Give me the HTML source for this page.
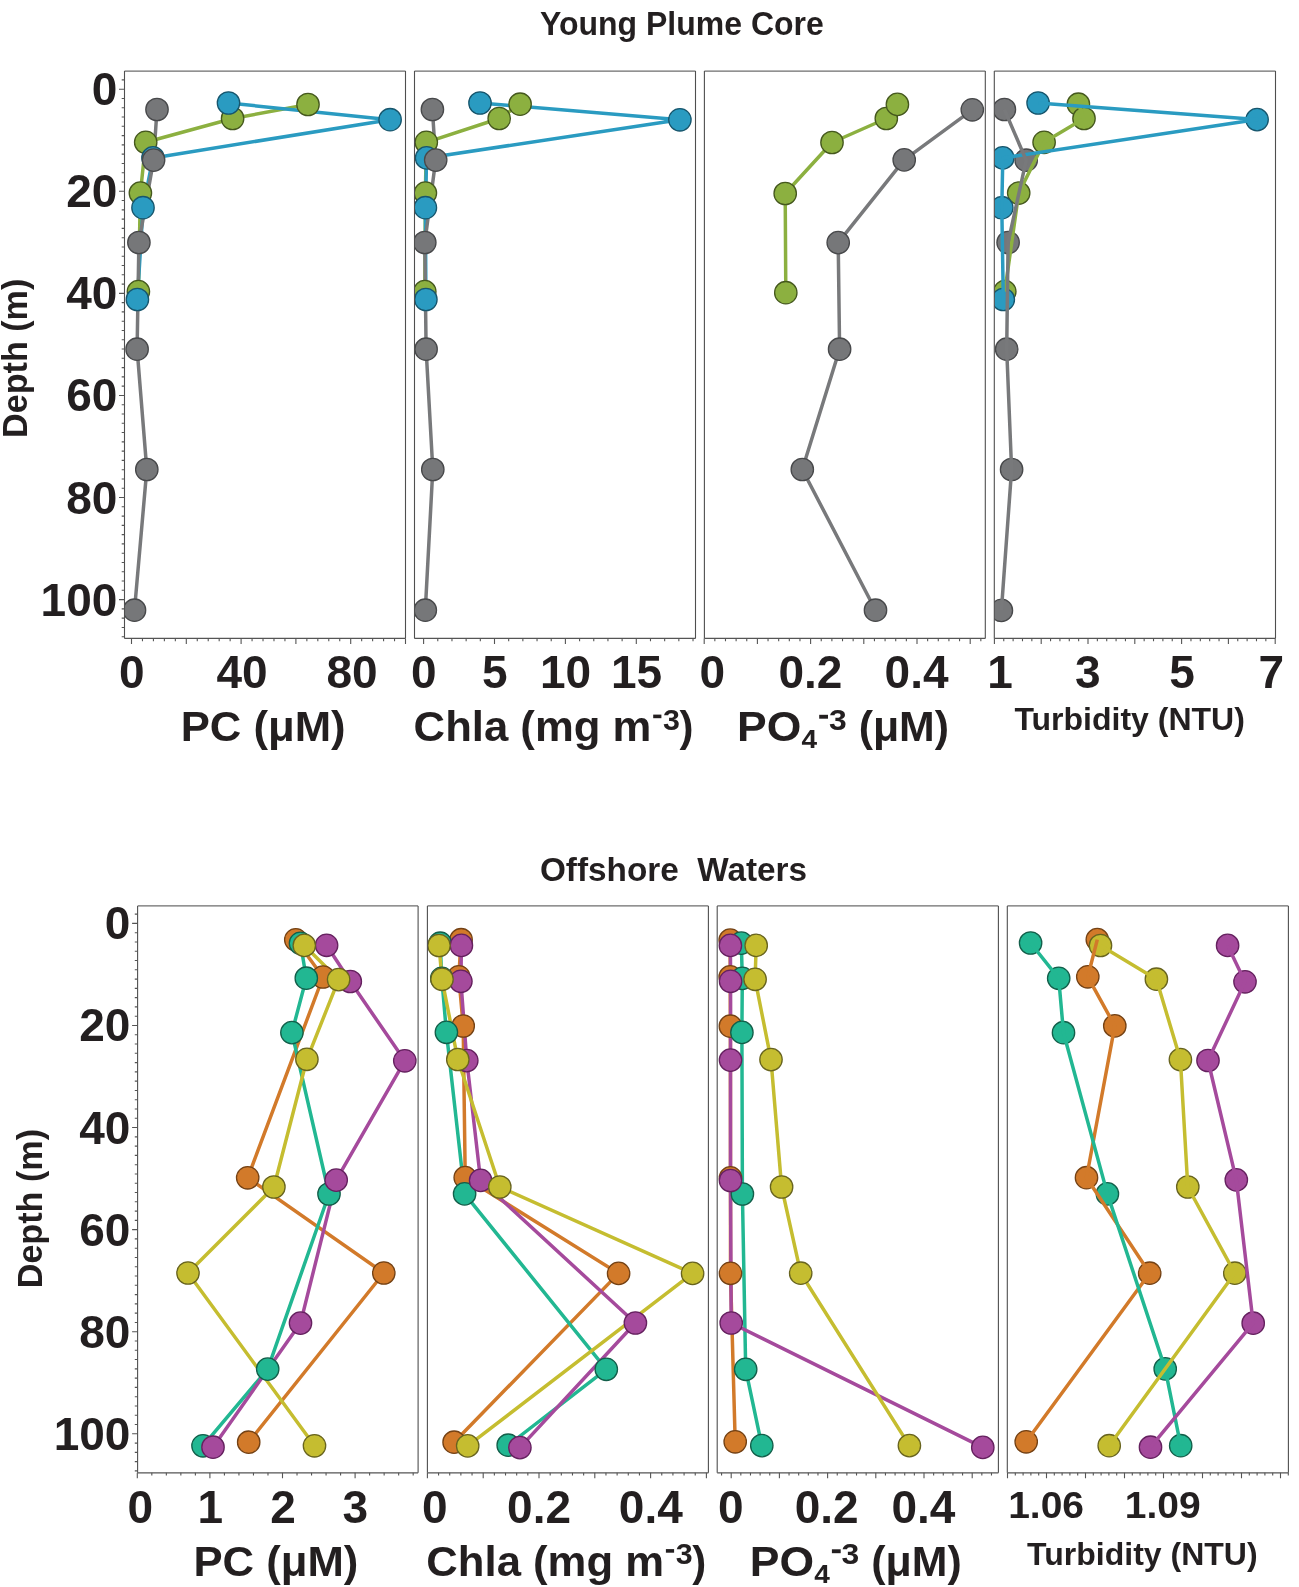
<!DOCTYPE html><html><head><meta charset="utf-8"><style>html,body{margin:0;padding:0;background:#fff;width:1299px;height:1587px;overflow:hidden}svg{display:block;will-change:transform}text{font-family:'Liberation Sans', sans-serif;font-weight:bold;fill:#231f20}</style></head><body>
<svg width="1299" height="1587" viewBox="0 0 1299 1587">
<rect width="1299" height="1587" fill="#fff"/>
<defs>
<clipPath id="ct0"><rect x="124.5" y="71.1" width="281" height="567.3"/></clipPath>
<clipPath id="ct1"><rect x="414.5" y="71.1" width="281" height="567.3"/></clipPath>
<clipPath id="ct2"><rect x="704.4" y="71.1" width="280.9" height="567.3"/></clipPath>
<clipPath id="ct3"><rect x="994.3" y="71.1" width="281.2" height="567.3"/></clipPath>
<clipPath id="cb0"><rect x="137.6" y="905.9" width="280.5" height="566.9"/></clipPath>
<clipPath id="cb1"><rect x="427.4" y="905.9" width="281" height="566.9"/></clipPath>
<clipPath id="cb2"><rect x="717.2" y="905.9" width="281.2" height="566.9"/></clipPath>
<clipPath id="cb3"><rect x="1007.3" y="905.9" width="281.1" height="566.9"/></clipPath>
</defs>
<g clip-path="url(#ct0)">
<polyline points="308,104.5 232.6,118.5 145.7,142.3 140.4,193.1 138.4,291.6" fill="none" stroke="#8cb040" stroke-width="3.5" stroke-linejoin="round" stroke-linecap="butt"/>
<polyline points="228.5,103 390.1,119.7 153,157.9 143,207.7 137.4,299.5" fill="none" stroke="#2a9bc1" stroke-width="3.5" stroke-linejoin="round" stroke-linecap="butt"/>
<polyline points="157,109.5 153.6,160.1 138.9,242.5 137.1,349.2 146.8,469.5 134.5,610.2" fill="none" stroke="#78797b" stroke-width="3.5" stroke-linejoin="round" stroke-linecap="butt"/>
<circle cx="308" cy="104.5" r="11.2" fill="#8cb040" stroke="#45581e" stroke-width="1.3"/>
<circle cx="232.6" cy="118.5" r="11.2" fill="#8cb040" stroke="#45581e" stroke-width="1.3"/>
<circle cx="145.7" cy="142.3" r="11.2" fill="#8cb040" stroke="#45581e" stroke-width="1.3"/>
<circle cx="140.4" cy="193.1" r="11.2" fill="#8cb040" stroke="#45581e" stroke-width="1.3"/>
<circle cx="138.4" cy="291.6" r="11.2" fill="#8cb040" stroke="#45581e" stroke-width="1.3"/>
<circle cx="228.5" cy="103" r="11.2" fill="#2a9bc1" stroke="#17566d" stroke-width="1.3"/>
<circle cx="390.1" cy="119.7" r="11.2" fill="#2a9bc1" stroke="#17566d" stroke-width="1.3"/>
<circle cx="153" cy="157.9" r="11.2" fill="#2a9bc1" stroke="#17566d" stroke-width="1.3"/>
<circle cx="143" cy="207.7" r="11.2" fill="#2a9bc1" stroke="#17566d" stroke-width="1.3"/>
<circle cx="137.4" cy="299.5" r="11.2" fill="#2a9bc1" stroke="#17566d" stroke-width="1.3"/>
<circle cx="157" cy="109.5" r="11.2" fill="#767779" stroke="#48494b" stroke-width="1.3"/>
<circle cx="153.6" cy="160.1" r="11.2" fill="#767779" stroke="#48494b" stroke-width="1.3"/>
<circle cx="138.9" cy="242.5" r="11.2" fill="#767779" stroke="#48494b" stroke-width="1.3"/>
<circle cx="137.1" cy="349.2" r="11.2" fill="#767779" stroke="#48494b" stroke-width="1.3"/>
<circle cx="146.8" cy="469.5" r="11.2" fill="#767779" stroke="#48494b" stroke-width="1.3"/>
<circle cx="134.5" cy="610.2" r="11.2" fill="#767779" stroke="#48494b" stroke-width="1.3"/>
</g>
<g clip-path="url(#ct1)">
<polyline points="520.1,104.2 499.2,118.5 426.3,142.3 425.4,193.1 424.8,291.6" fill="none" stroke="#8cb040" stroke-width="3.5" stroke-linejoin="round" stroke-linecap="butt"/>
<polyline points="480,103 679.9,119.8 426.6,157.9 425.4,207.7 425.9,299.5" fill="none" stroke="#2a9bc1" stroke-width="3.5" stroke-linejoin="round" stroke-linecap="butt"/>
<polyline points="432.4,109.5 435.7,160.1 424.8,242.5 426.1,349.2 432.8,469.5 425.3,610.2" fill="none" stroke="#78797b" stroke-width="3.5" stroke-linejoin="round" stroke-linecap="butt"/>
<circle cx="520.1" cy="104.2" r="11.2" fill="#8cb040" stroke="#45581e" stroke-width="1.3"/>
<circle cx="499.2" cy="118.5" r="11.2" fill="#8cb040" stroke="#45581e" stroke-width="1.3"/>
<circle cx="426.3" cy="142.3" r="11.2" fill="#8cb040" stroke="#45581e" stroke-width="1.3"/>
<circle cx="425.4" cy="193.1" r="11.2" fill="#8cb040" stroke="#45581e" stroke-width="1.3"/>
<circle cx="424.8" cy="291.6" r="11.2" fill="#8cb040" stroke="#45581e" stroke-width="1.3"/>
<circle cx="480" cy="103" r="11.2" fill="#2a9bc1" stroke="#17566d" stroke-width="1.3"/>
<circle cx="679.9" cy="119.8" r="11.2" fill="#2a9bc1" stroke="#17566d" stroke-width="1.3"/>
<circle cx="426.6" cy="157.9" r="11.2" fill="#2a9bc1" stroke="#17566d" stroke-width="1.3"/>
<circle cx="425.4" cy="207.7" r="11.2" fill="#2a9bc1" stroke="#17566d" stroke-width="1.3"/>
<circle cx="425.9" cy="299.5" r="11.2" fill="#2a9bc1" stroke="#17566d" stroke-width="1.3"/>
<circle cx="432.4" cy="109.5" r="11.2" fill="#767779" stroke="#48494b" stroke-width="1.3"/>
<circle cx="435.7" cy="160.1" r="11.2" fill="#767779" stroke="#48494b" stroke-width="1.3"/>
<circle cx="424.8" cy="242.5" r="11.2" fill="#767779" stroke="#48494b" stroke-width="1.3"/>
<circle cx="426.1" cy="349.2" r="11.2" fill="#767779" stroke="#48494b" stroke-width="1.3"/>
<circle cx="432.8" cy="469.5" r="11.2" fill="#767779" stroke="#48494b" stroke-width="1.3"/>
<circle cx="425.3" cy="610.2" r="11.2" fill="#767779" stroke="#48494b" stroke-width="1.3"/>
</g>
<g clip-path="url(#ct2)">
<polyline points="897.4,104.4 886.3,118.5 832,142.5 785.2,193.5 785.8,292.7" fill="none" stroke="#8cb040" stroke-width="3.5" stroke-linejoin="round" stroke-linecap="butt"/>
<polyline points="972.3,109.8 904.2,159.9 838.2,242.6 839.6,349.2 802.3,469.5 875.5,610.2" fill="none" stroke="#78797b" stroke-width="3.5" stroke-linejoin="round" stroke-linecap="butt"/>
<circle cx="886.3" cy="118.5" r="11.2" fill="#8cb040" stroke="#45581e" stroke-width="1.3"/>
<circle cx="897.4" cy="104.4" r="11.2" fill="#8cb040" stroke="#45581e" stroke-width="1.3"/>
<circle cx="832" cy="142.5" r="11.2" fill="#8cb040" stroke="#45581e" stroke-width="1.3"/>
<circle cx="785.2" cy="193.5" r="11.2" fill="#8cb040" stroke="#45581e" stroke-width="1.3"/>
<circle cx="785.8" cy="292.7" r="11.2" fill="#8cb040" stroke="#45581e" stroke-width="1.3"/>
<circle cx="972.3" cy="109.8" r="11.2" fill="#767779" stroke="#48494b" stroke-width="1.3"/>
<circle cx="904.2" cy="159.9" r="11.2" fill="#767779" stroke="#48494b" stroke-width="1.3"/>
<circle cx="838.2" cy="242.6" r="11.2" fill="#767779" stroke="#48494b" stroke-width="1.3"/>
<circle cx="839.6" cy="349.2" r="11.2" fill="#767779" stroke="#48494b" stroke-width="1.3"/>
<circle cx="802.3" cy="469.5" r="11.2" fill="#767779" stroke="#48494b" stroke-width="1.3"/>
<circle cx="875.5" cy="610.2" r="11.2" fill="#767779" stroke="#48494b" stroke-width="1.3"/>
</g>
<g clip-path="url(#ct3)">
<circle cx="1078.4" cy="104.2" r="11.2" fill="#8cb040" stroke="#45581e" stroke-width="1.3"/>
<circle cx="1084" cy="118.5" r="11.2" fill="#8cb040" stroke="#45581e" stroke-width="1.3"/>
<circle cx="1044.1" cy="142.3" r="11.2" fill="#8cb040" stroke="#45581e" stroke-width="1.3"/>
<circle cx="1018.7" cy="193.1" r="11.2" fill="#8cb040" stroke="#45581e" stroke-width="1.3"/>
<circle cx="1004.8" cy="291.6" r="11.2" fill="#8cb040" stroke="#45581e" stroke-width="1.3"/>
<circle cx="1038.1" cy="103" r="11.2" fill="#2a9bc1" stroke="#17566d" stroke-width="1.3"/>
<circle cx="1257.1" cy="119.6" r="11.2" fill="#2a9bc1" stroke="#17566d" stroke-width="1.3"/>
<circle cx="1002.8" cy="157.9" r="11.2" fill="#2a9bc1" stroke="#17566d" stroke-width="1.3"/>
<circle cx="1001.8" cy="207.7" r="11.2" fill="#2a9bc1" stroke="#17566d" stroke-width="1.3"/>
<circle cx="1003.3" cy="299.5" r="11.2" fill="#2a9bc1" stroke="#17566d" stroke-width="1.3"/>
<circle cx="1004.4" cy="109.5" r="11.2" fill="#767779" stroke="#48494b" stroke-width="1.3"/>
<circle cx="1026.2" cy="160.2" r="11.2" fill="#767779" stroke="#48494b" stroke-width="1.3"/>
<circle cx="1008.1" cy="242.5" r="11.2" fill="#767779" stroke="#48494b" stroke-width="1.3"/>
<circle cx="1006.7" cy="349.2" r="11.2" fill="#767779" stroke="#48494b" stroke-width="1.3"/>
<circle cx="1011.6" cy="469.5" r="11.2" fill="#767779" stroke="#48494b" stroke-width="1.3"/>
<circle cx="1001.4" cy="610.4" r="11.2" fill="#767779" stroke="#48494b" stroke-width="1.3"/>
<polyline points="1078.4,104.2 1084,118.5 1044.1,142.3 1018.7,193.1 1004.8,291.6" fill="none" stroke="#8cb040" stroke-width="3.5" stroke-linejoin="round" stroke-linecap="butt"/>
<polyline points="1038.1,103 1257.1,119.6 1002.8,157.9 1001.8,207.7 1003.3,299.5" fill="none" stroke="#2a9bc1" stroke-width="3.5" stroke-linejoin="round" stroke-linecap="butt"/>
<polyline points="1004.4,109.5 1026.2,160.2 1008.1,242.5 1006.7,349.2 1011.6,469.5 1001.4,610.4" fill="none" stroke="#78797b" stroke-width="3.5" stroke-linejoin="round" stroke-linecap="butt"/>
</g>
<line x1="124.5" y1="71.1" x2="405.5" y2="71.1" stroke="#6c6c6c" stroke-width="1.3"/>
<line x1="405.5" y1="71.1" x2="405.5" y2="638.4" stroke="#4f4f4f" stroke-width="1.1"/>
<line x1="124.5" y1="71.1" x2="124.5" y2="638.4" stroke="#4f4f4f" stroke-width="1.1"/>
<line x1="124.5" y1="638.4" x2="405.5" y2="638.4" stroke="#555" stroke-width="1.3"/>
<line x1="414.5" y1="71.1" x2="695.5" y2="71.1" stroke="#6c6c6c" stroke-width="1.3"/>
<line x1="695.5" y1="71.1" x2="695.5" y2="638.4" stroke="#4f4f4f" stroke-width="1.1"/>
<line x1="414.5" y1="71.1" x2="414.5" y2="638.4" stroke="#4f4f4f" stroke-width="1.1"/>
<line x1="414.5" y1="638.4" x2="695.5" y2="638.4" stroke="#555" stroke-width="1.3"/>
<line x1="704.4" y1="71.1" x2="985.3" y2="71.1" stroke="#6c6c6c" stroke-width="1.3"/>
<line x1="985.3" y1="71.1" x2="985.3" y2="638.4" stroke="#4f4f4f" stroke-width="1.1"/>
<line x1="704.4" y1="71.1" x2="704.4" y2="638.4" stroke="#4f4f4f" stroke-width="1.1"/>
<line x1="704.4" y1="638.4" x2="985.3" y2="638.4" stroke="#555" stroke-width="1.3"/>
<line x1="994.3" y1="71.1" x2="1275.5" y2="71.1" stroke="#6c6c6c" stroke-width="1.3"/>
<line x1="1275.5" y1="71.1" x2="1275.5" y2="638.4" stroke="#4f4f4f" stroke-width="1.1"/>
<line x1="994.3" y1="71.1" x2="994.3" y2="638.4" stroke="#4f4f4f" stroke-width="1.1"/>
<line x1="994.3" y1="638.4" x2="1275.5" y2="638.4" stroke="#555" stroke-width="1.3"/>
<path d="M124.5 79.92h-2.8 M124.5 89.2h-5.5 M124.5 98.48h-2.8 M124.5 107.76h-2.8 M124.5 117.04h-2.8 M124.5 126.32h-2.8 M124.5 135.6h-2.8 M124.5 144.88h-2.8 M124.5 154.16h-2.8 M124.5 163.44h-2.8 M124.5 172.72h-2.8 M124.5 182h-2.8 M124.5 191.28h-5.5 M124.5 200.56h-2.8 M124.5 209.84h-2.8 M124.5 219.12h-2.8 M124.5 228.4h-2.8 M124.5 237.68h-2.8 M124.5 246.96h-2.8 M124.5 256.24h-2.8 M124.5 265.52h-2.8 M124.5 274.8h-2.8 M124.5 284.08h-2.8 M124.5 293.36h-5.5 M124.5 302.64h-2.8 M124.5 311.92h-2.8 M124.5 321.2h-2.8 M124.5 330.48h-2.8 M124.5 339.76h-2.8 M124.5 349.04h-2.8 M124.5 358.32h-2.8 M124.5 367.6h-2.8 M124.5 376.88h-2.8 M124.5 386.16h-2.8 M124.5 395.44h-5.5 M124.5 404.72h-2.8 M124.5 414h-2.8 M124.5 423.28h-2.8 M124.5 432.56h-2.8 M124.5 441.84h-2.8 M124.5 451.12h-2.8 M124.5 460.4h-2.8 M124.5 469.68h-2.8 M124.5 478.96h-2.8 M124.5 488.24h-2.8 M124.5 497.52h-5.5 M124.5 506.8h-2.8 M124.5 516.08h-2.8 M124.5 525.36h-2.8 M124.5 534.64h-2.8 M124.5 543.92h-2.8 M124.5 553.2h-2.8 M124.5 562.48h-2.8 M124.5 571.76h-2.8 M124.5 581.04h-2.8 M124.5 590.32h-2.8 M124.5 599.6h-5.5 M124.5 608.88h-2.8 M124.5 618.16h-2.8 M124.5 627.44h-2.8 M124.5 636.72h-2.8" stroke="#555" stroke-width="1.1" fill="none"/>
<path d="M131.5 638.4v5.5 M142.46 638.4v2.8 M153.42 638.4v2.8 M164.38 638.4v2.8 M175.34 638.4v2.8 M186.3 638.4v5.5 M197.26 638.4v2.8 M208.22 638.4v2.8 M219.18 638.4v2.8 M230.14 638.4v2.8 M241.1 638.4v5.5 M252.06 638.4v2.8 M263.02 638.4v2.8 M273.98 638.4v2.8 M284.94 638.4v2.8 M295.9 638.4v5.5 M306.86 638.4v2.8 M317.82 638.4v2.8 M328.78 638.4v2.8 M339.74 638.4v2.8 M350.7 638.4v5.5 M361.66 638.4v2.8 M372.62 638.4v2.8 M383.58 638.4v2.8 M394.54 638.4v2.8 M405.5 638.4v5.5" stroke="#555" stroke-width="1.1" fill="none"/>
<path d="M423.6 638.4v5.5 M437.78 638.4v2.8 M451.96 638.4v2.8 M466.14 638.4v2.8 M480.32 638.4v2.8 M494.5 638.4v5.5 M508.68 638.4v2.8 M522.86 638.4v2.8 M537.04 638.4v2.8 M551.22 638.4v2.8 M565.4 638.4v5.5 M579.58 638.4v2.8 M593.76 638.4v2.8 M607.94 638.4v2.8 M622.12 638.4v2.8 M636.3 638.4v5.5 M650.48 638.4v2.8 M664.66 638.4v2.8 M678.84 638.4v2.8 M693.02 638.4v2.8" stroke="#555" stroke-width="1.1" fill="none"/>
<path d="M704.2 638.4v5.5 M714.84 638.4v2.8 M725.48 638.4v2.8 M736.12 638.4v2.8 M746.76 638.4v2.8 M757.4 638.4v5.5 M768.04 638.4v2.8 M778.68 638.4v2.8 M789.32 638.4v2.8 M799.96 638.4v2.8 M810.6 638.4v5.5 M821.24 638.4v2.8 M831.88 638.4v2.8 M842.52 638.4v2.8 M853.16 638.4v2.8 M863.8 638.4v5.5 M874.44 638.4v2.8 M885.08 638.4v2.8 M895.72 638.4v2.8 M906.36 638.4v2.8 M917 638.4v5.5 M927.64 638.4v2.8 M938.28 638.4v2.8 M948.92 638.4v2.8 M959.56 638.4v2.8 M970.2 638.4v5.5 M980.84 638.4v2.8" stroke="#555" stroke-width="1.1" fill="none"/>
<path d="M994.4 638.4v5.5 M1003.76 638.4v2.8 M1013.12 638.4v2.8 M1022.48 638.4v2.8 M1031.84 638.4v2.8 M1041.2 638.4v5.5 M1050.56 638.4v2.8 M1059.92 638.4v2.8 M1069.28 638.4v2.8 M1078.64 638.4v2.8 M1088 638.4v5.5 M1097.36 638.4v2.8 M1106.72 638.4v2.8 M1116.08 638.4v2.8 M1125.44 638.4v2.8 M1134.8 638.4v5.5 M1144.16 638.4v2.8 M1153.52 638.4v2.8 M1162.88 638.4v2.8 M1172.24 638.4v2.8 M1181.6 638.4v5.5 M1190.96 638.4v2.8 M1200.32 638.4v2.8 M1209.68 638.4v2.8 M1219.04 638.4v2.8 M1228.4 638.4v5.5 M1237.76 638.4v2.8 M1247.12 638.4v2.8 M1256.48 638.4v2.8 M1265.84 638.4v2.8 M1275.2 638.4v5.5" stroke="#555" stroke-width="1.1" fill="none"/>
<g clip-path="url(#cb0)">
<polyline points="295.8,939.8 323,977 247.7,1177.8 383.8,1273 248.7,1442.2" fill="none" stroke="#d27a2a" stroke-width="3.5" stroke-linejoin="round" stroke-linecap="butt"/>
<polyline points="300.5,943.3 306.3,978.2 291.9,1032.6 329,1194 267.7,1369.1 203,1445.8" fill="none" stroke="#22b792" stroke-width="3.5" stroke-linejoin="round" stroke-linecap="butt"/>
<polyline points="326.6,945.3 350.3,981.5 404.8,1060.8 336.2,1180.1 300.5,1323.1 213,1447.2" fill="none" stroke="#a54a9c" stroke-width="3.5" stroke-linejoin="round" stroke-linecap="butt"/>
<polyline points="304.3,945.4 338.6,979.6 306.9,1059.3 273.9,1187 188,1273 314.5,1445.8" fill="none" stroke="#c5bd30" stroke-width="3.5" stroke-linejoin="round" stroke-linecap="butt"/>
<circle cx="295.8" cy="939.8" r="11.2" fill="#d27a2a" stroke="#744215" stroke-width="1.3"/>
<circle cx="323" cy="977" r="11.2" fill="#d27a2a" stroke="#744215" stroke-width="1.3"/>
<circle cx="247.7" cy="1177.8" r="11.2" fill="#d27a2a" stroke="#744215" stroke-width="1.3"/>
<circle cx="383.8" cy="1273" r="11.2" fill="#d27a2a" stroke="#744215" stroke-width="1.3"/>
<circle cx="248.7" cy="1442.2" r="11.2" fill="#d27a2a" stroke="#744215" stroke-width="1.3"/>
<circle cx="300.5" cy="943.3" r="11.2" fill="#22b792" stroke="#135f4a" stroke-width="1.3"/>
<circle cx="306.3" cy="978.2" r="11.2" fill="#22b792" stroke="#135f4a" stroke-width="1.3"/>
<circle cx="291.9" cy="1032.6" r="11.2" fill="#22b792" stroke="#135f4a" stroke-width="1.3"/>
<circle cx="329" cy="1194" r="11.2" fill="#22b792" stroke="#135f4a" stroke-width="1.3"/>
<circle cx="267.7" cy="1369.1" r="11.2" fill="#22b792" stroke="#135f4a" stroke-width="1.3"/>
<circle cx="203" cy="1445.8" r="11.2" fill="#22b792" stroke="#135f4a" stroke-width="1.3"/>
<circle cx="326.6" cy="945.3" r="11.2" fill="#a54a9c" stroke="#65215f" stroke-width="1.3"/>
<circle cx="350.3" cy="981.5" r="11.2" fill="#a54a9c" stroke="#65215f" stroke-width="1.3"/>
<circle cx="404.8" cy="1060.8" r="11.2" fill="#a54a9c" stroke="#65215f" stroke-width="1.3"/>
<circle cx="336.2" cy="1180.1" r="11.2" fill="#a54a9c" stroke="#65215f" stroke-width="1.3"/>
<circle cx="300.5" cy="1323.1" r="11.2" fill="#a54a9c" stroke="#65215f" stroke-width="1.3"/>
<circle cx="213" cy="1447.2" r="11.2" fill="#a54a9c" stroke="#65215f" stroke-width="1.3"/>
<circle cx="304.3" cy="945.4" r="11.2" fill="#c5bd30" stroke="#68641f" stroke-width="1.3"/>
<circle cx="338.6" cy="979.6" r="11.2" fill="#c5bd30" stroke="#68641f" stroke-width="1.3"/>
<circle cx="306.9" cy="1059.3" r="11.2" fill="#c5bd30" stroke="#68641f" stroke-width="1.3"/>
<circle cx="273.9" cy="1187" r="11.2" fill="#c5bd30" stroke="#68641f" stroke-width="1.3"/>
<circle cx="188" cy="1273" r="11.2" fill="#c5bd30" stroke="#68641f" stroke-width="1.3"/>
<circle cx="314.5" cy="1445.8" r="11.2" fill="#c5bd30" stroke="#68641f" stroke-width="1.3"/>
</g>
<g clip-path="url(#cb1)">
<polyline points="461.1,939.7 458.8,976.8 463.2,1026 465.2,1177.6 618.6,1273.4 454.1,1442.2" fill="none" stroke="#d27a2a" stroke-width="3.5" stroke-linejoin="round" stroke-linecap="butt"/>
<polyline points="440.2,943.2 441.8,978.3 446.4,1032.3 464.6,1193.9 606.3,1369.3 508.2,1445.2" fill="none" stroke="#22b792" stroke-width="3.5" stroke-linejoin="round" stroke-linecap="butt"/>
<polyline points="461.4,945.4 460.9,981.3 466.8,1060.6 480.6,1180.4 635.4,1323 519.9,1447.6" fill="none" stroke="#a54a9c" stroke-width="3.5" stroke-linejoin="round" stroke-linecap="butt"/>
<polyline points="439,945.5 442,979.3 457.8,1059.5 499.8,1187 692.6,1273.4 467.7,1445.9" fill="none" stroke="#c5bd30" stroke-width="3.5" stroke-linejoin="round" stroke-linecap="butt"/>
<circle cx="461.1" cy="939.7" r="11.2" fill="#d27a2a" stroke="#744215" stroke-width="1.3"/>
<circle cx="458.8" cy="976.8" r="11.2" fill="#d27a2a" stroke="#744215" stroke-width="1.3"/>
<circle cx="463.2" cy="1026" r="11.2" fill="#d27a2a" stroke="#744215" stroke-width="1.3"/>
<circle cx="465.2" cy="1177.6" r="11.2" fill="#d27a2a" stroke="#744215" stroke-width="1.3"/>
<circle cx="618.6" cy="1273.4" r="11.2" fill="#d27a2a" stroke="#744215" stroke-width="1.3"/>
<circle cx="454.1" cy="1442.2" r="11.2" fill="#d27a2a" stroke="#744215" stroke-width="1.3"/>
<circle cx="440.2" cy="943.2" r="11.2" fill="#22b792" stroke="#135f4a" stroke-width="1.3"/>
<circle cx="441.8" cy="978.3" r="11.2" fill="#22b792" stroke="#135f4a" stroke-width="1.3"/>
<circle cx="446.4" cy="1032.3" r="11.2" fill="#22b792" stroke="#135f4a" stroke-width="1.3"/>
<circle cx="464.6" cy="1193.9" r="11.2" fill="#22b792" stroke="#135f4a" stroke-width="1.3"/>
<circle cx="606.3" cy="1369.3" r="11.2" fill="#22b792" stroke="#135f4a" stroke-width="1.3"/>
<circle cx="508.2" cy="1445.2" r="11.2" fill="#22b792" stroke="#135f4a" stroke-width="1.3"/>
<circle cx="461.4" cy="945.4" r="11.2" fill="#a54a9c" stroke="#65215f" stroke-width="1.3"/>
<circle cx="460.9" cy="981.3" r="11.2" fill="#a54a9c" stroke="#65215f" stroke-width="1.3"/>
<circle cx="466.8" cy="1060.6" r="11.2" fill="#a54a9c" stroke="#65215f" stroke-width="1.3"/>
<circle cx="480.6" cy="1180.4" r="11.2" fill="#a54a9c" stroke="#65215f" stroke-width="1.3"/>
<circle cx="635.4" cy="1323" r="11.2" fill="#a54a9c" stroke="#65215f" stroke-width="1.3"/>
<circle cx="519.9" cy="1447.6" r="11.2" fill="#a54a9c" stroke="#65215f" stroke-width="1.3"/>
<circle cx="439" cy="945.5" r="11.2" fill="#c5bd30" stroke="#68641f" stroke-width="1.3"/>
<circle cx="442" cy="979.3" r="11.2" fill="#c5bd30" stroke="#68641f" stroke-width="1.3"/>
<circle cx="457.8" cy="1059.5" r="11.2" fill="#c5bd30" stroke="#68641f" stroke-width="1.3"/>
<circle cx="499.8" cy="1187" r="11.2" fill="#c5bd30" stroke="#68641f" stroke-width="1.3"/>
<circle cx="692.6" cy="1273.4" r="11.2" fill="#c5bd30" stroke="#68641f" stroke-width="1.3"/>
<circle cx="467.7" cy="1445.9" r="11.2" fill="#c5bd30" stroke="#68641f" stroke-width="1.3"/>
</g>
<g clip-path="url(#cb2)">
<polyline points="730.2,940.1 730.2,976.9 730.4,1026.2 730.5,1177.9 730.5,1273.3 735.2,1441.8" fill="none" stroke="#d27a2a" stroke-width="3.5" stroke-linejoin="round" stroke-linecap="butt"/>
<polyline points="741.3,943.1 742.3,978.4 741.9,1032.4 742.4,1194 745.7,1369.3 761.8,1445.6" fill="none" stroke="#22b792" stroke-width="3.5" stroke-linejoin="round" stroke-linecap="butt"/>
<polyline points="730.4,945.4 730.6,981.3 730.5,1060.1 730.5,1180.5 731.2,1323 982.8,1447.4" fill="none" stroke="#a54a9c" stroke-width="3.5" stroke-linejoin="round" stroke-linecap="butt"/>
<polyline points="756.2,945.4 755.1,979.3 771,1059.6 781.6,1187 800.7,1273.2 909.4,1445.6" fill="none" stroke="#c5bd30" stroke-width="3.5" stroke-linejoin="round" stroke-linecap="butt"/>
<circle cx="730.2" cy="940.1" r="11.2" fill="#d27a2a" stroke="#744215" stroke-width="1.3"/>
<circle cx="730.2" cy="976.9" r="11.2" fill="#d27a2a" stroke="#744215" stroke-width="1.3"/>
<circle cx="730.4" cy="1026.2" r="11.2" fill="#d27a2a" stroke="#744215" stroke-width="1.3"/>
<circle cx="730.5" cy="1177.9" r="11.2" fill="#d27a2a" stroke="#744215" stroke-width="1.3"/>
<circle cx="730.5" cy="1273.3" r="11.2" fill="#d27a2a" stroke="#744215" stroke-width="1.3"/>
<circle cx="735.2" cy="1441.8" r="11.2" fill="#d27a2a" stroke="#744215" stroke-width="1.3"/>
<circle cx="741.3" cy="943.1" r="11.2" fill="#22b792" stroke="#135f4a" stroke-width="1.3"/>
<circle cx="742.3" cy="978.4" r="11.2" fill="#22b792" stroke="#135f4a" stroke-width="1.3"/>
<circle cx="741.9" cy="1032.4" r="11.2" fill="#22b792" stroke="#135f4a" stroke-width="1.3"/>
<circle cx="742.4" cy="1194" r="11.2" fill="#22b792" stroke="#135f4a" stroke-width="1.3"/>
<circle cx="745.7" cy="1369.3" r="11.2" fill="#22b792" stroke="#135f4a" stroke-width="1.3"/>
<circle cx="761.8" cy="1445.6" r="11.2" fill="#22b792" stroke="#135f4a" stroke-width="1.3"/>
<circle cx="730.4" cy="945.4" r="11.2" fill="#a54a9c" stroke="#65215f" stroke-width="1.3"/>
<circle cx="730.6" cy="981.3" r="11.2" fill="#a54a9c" stroke="#65215f" stroke-width="1.3"/>
<circle cx="730.5" cy="1060.1" r="11.2" fill="#a54a9c" stroke="#65215f" stroke-width="1.3"/>
<circle cx="730.5" cy="1180.5" r="11.2" fill="#a54a9c" stroke="#65215f" stroke-width="1.3"/>
<circle cx="731.2" cy="1323" r="11.2" fill="#a54a9c" stroke="#65215f" stroke-width="1.3"/>
<circle cx="982.8" cy="1447.4" r="11.2" fill="#a54a9c" stroke="#65215f" stroke-width="1.3"/>
<circle cx="756.2" cy="945.4" r="11.2" fill="#c5bd30" stroke="#68641f" stroke-width="1.3"/>
<circle cx="755.1" cy="979.3" r="11.2" fill="#c5bd30" stroke="#68641f" stroke-width="1.3"/>
<circle cx="771" cy="1059.6" r="11.2" fill="#c5bd30" stroke="#68641f" stroke-width="1.3"/>
<circle cx="781.6" cy="1187" r="11.2" fill="#c5bd30" stroke="#68641f" stroke-width="1.3"/>
<circle cx="800.7" cy="1273.2" r="11.2" fill="#c5bd30" stroke="#68641f" stroke-width="1.3"/>
<circle cx="909.4" cy="1445.6" r="11.2" fill="#c5bd30" stroke="#68641f" stroke-width="1.3"/>
</g>
<g clip-path="url(#cb3)">
<circle cx="1097.3" cy="939.6" r="11.2" fill="#d27a2a" stroke="#744215" stroke-width="1.3"/>
<circle cx="1087.8" cy="976.8" r="11.2" fill="#d27a2a" stroke="#744215" stroke-width="1.3"/>
<circle cx="1114.8" cy="1025.9" r="11.2" fill="#d27a2a" stroke="#744215" stroke-width="1.3"/>
<circle cx="1086.5" cy="1177.7" r="11.2" fill="#d27a2a" stroke="#744215" stroke-width="1.3"/>
<circle cx="1149.7" cy="1273.2" r="11.2" fill="#d27a2a" stroke="#744215" stroke-width="1.3"/>
<circle cx="1026.2" cy="1441.8" r="11.2" fill="#d27a2a" stroke="#744215" stroke-width="1.3"/>
<circle cx="1030.6" cy="943" r="11.2" fill="#22b792" stroke="#135f4a" stroke-width="1.3"/>
<circle cx="1058.7" cy="978.3" r="11.2" fill="#22b792" stroke="#135f4a" stroke-width="1.3"/>
<circle cx="1063.5" cy="1032.7" r="11.2" fill="#22b792" stroke="#135f4a" stroke-width="1.3"/>
<circle cx="1107.4" cy="1193.9" r="11.2" fill="#22b792" stroke="#135f4a" stroke-width="1.3"/>
<circle cx="1165.2" cy="1368.9" r="11.2" fill="#22b792" stroke="#135f4a" stroke-width="1.3"/>
<circle cx="1180.7" cy="1445.7" r="11.2" fill="#22b792" stroke="#135f4a" stroke-width="1.3"/>
<circle cx="1227.6" cy="945.4" r="11.2" fill="#a54a9c" stroke="#65215f" stroke-width="1.3"/>
<circle cx="1245" cy="981.8" r="11.2" fill="#a54a9c" stroke="#65215f" stroke-width="1.3"/>
<circle cx="1208" cy="1060.5" r="11.2" fill="#a54a9c" stroke="#65215f" stroke-width="1.3"/>
<circle cx="1236.3" cy="1179.9" r="11.2" fill="#a54a9c" stroke="#65215f" stroke-width="1.3"/>
<circle cx="1253.2" cy="1323.2" r="11.2" fill="#a54a9c" stroke="#65215f" stroke-width="1.3"/>
<circle cx="1150.5" cy="1447.2" r="11.2" fill="#a54a9c" stroke="#65215f" stroke-width="1.3"/>
<circle cx="1100.5" cy="945.5" r="11.2" fill="#c5bd30" stroke="#68641f" stroke-width="1.3"/>
<circle cx="1156.4" cy="979.2" r="11.2" fill="#c5bd30" stroke="#68641f" stroke-width="1.3"/>
<circle cx="1180.4" cy="1059.6" r="11.2" fill="#c5bd30" stroke="#68641f" stroke-width="1.3"/>
<circle cx="1187.8" cy="1187" r="11.2" fill="#c5bd30" stroke="#68641f" stroke-width="1.3"/>
<circle cx="1234.8" cy="1273.2" r="11.2" fill="#c5bd30" stroke="#68641f" stroke-width="1.3"/>
<circle cx="1109.2" cy="1445.7" r="11.2" fill="#c5bd30" stroke="#68641f" stroke-width="1.3"/>
<polyline points="1097.3,939.6 1087.8,976.8 1114.8,1025.9 1086.5,1177.7 1149.7,1273.2 1026.2,1441.8" fill="none" stroke="#d27a2a" stroke-width="3.5" stroke-linejoin="round" stroke-linecap="butt"/>
<polyline points="1030.6,943 1058.7,978.3 1063.5,1032.7 1107.4,1193.9 1165.2,1368.9 1180.7,1445.7" fill="none" stroke="#22b792" stroke-width="3.5" stroke-linejoin="round" stroke-linecap="butt"/>
<polyline points="1227.6,945.4 1245,981.8 1208,1060.5 1236.3,1179.9 1253.2,1323.2 1150.5,1447.2" fill="none" stroke="#a54a9c" stroke-width="3.5" stroke-linejoin="round" stroke-linecap="butt"/>
<polyline points="1100.5,945.5 1156.4,979.2 1180.4,1059.6 1187.8,1187 1234.8,1273.2 1109.2,1445.7" fill="none" stroke="#c5bd30" stroke-width="3.5" stroke-linejoin="round" stroke-linecap="butt"/>
</g>
<line x1="137.6" y1="905.9" x2="418.1" y2="905.9" stroke="#6c6c6c" stroke-width="1.3"/>
<line x1="418.1" y1="905.9" x2="418.1" y2="1472.8" stroke="#4f4f4f" stroke-width="1.1"/>
<line x1="137.6" y1="905.9" x2="137.6" y2="1472.8" stroke="#4f4f4f" stroke-width="1.1"/>
<line x1="137.6" y1="1472.8" x2="418.1" y2="1472.8" stroke="#555" stroke-width="1.3"/>
<line x1="427.4" y1="905.9" x2="708.4" y2="905.9" stroke="#6c6c6c" stroke-width="1.3"/>
<line x1="708.4" y1="905.9" x2="708.4" y2="1472.8" stroke="#4f4f4f" stroke-width="1.1"/>
<line x1="427.4" y1="905.9" x2="427.4" y2="1472.8" stroke="#4f4f4f" stroke-width="1.1"/>
<line x1="427.4" y1="1472.8" x2="708.4" y2="1472.8" stroke="#555" stroke-width="1.3"/>
<line x1="717.2" y1="905.9" x2="998.4" y2="905.9" stroke="#6c6c6c" stroke-width="1.3"/>
<line x1="998.4" y1="905.9" x2="998.4" y2="1472.8" stroke="#4f4f4f" stroke-width="1.1"/>
<line x1="717.2" y1="905.9" x2="717.2" y2="1472.8" stroke="#4f4f4f" stroke-width="1.1"/>
<line x1="717.2" y1="1472.8" x2="998.4" y2="1472.8" stroke="#555" stroke-width="1.3"/>
<line x1="1007.3" y1="905.9" x2="1288.4" y2="905.9" stroke="#6c6c6c" stroke-width="1.3"/>
<line x1="1288.4" y1="905.9" x2="1288.4" y2="1472.8" stroke="#4f4f4f" stroke-width="1.1"/>
<line x1="1007.3" y1="905.9" x2="1007.3" y2="1472.8" stroke="#4f4f4f" stroke-width="1.1"/>
<line x1="1007.3" y1="1472.8" x2="1288.4" y2="1472.8" stroke="#555" stroke-width="1.3"/>
<path d="M137.6 914.12h-2.8 M137.6 923.4h-5.5 M137.6 932.68h-2.8 M137.6 941.96h-2.8 M137.6 951.24h-2.8 M137.6 960.52h-2.8 M137.6 969.8h-2.8 M137.6 979.08h-2.8 M137.6 988.36h-2.8 M137.6 997.64h-2.8 M137.6 1006.92h-2.8 M137.6 1016.2h-2.8 M137.6 1025.48h-5.5 M137.6 1034.76h-2.8 M137.6 1044.04h-2.8 M137.6 1053.32h-2.8 M137.6 1062.6h-2.8 M137.6 1071.88h-2.8 M137.6 1081.16h-2.8 M137.6 1090.44h-2.8 M137.6 1099.72h-2.8 M137.6 1109h-2.8 M137.6 1118.28h-2.8 M137.6 1127.56h-5.5 M137.6 1136.84h-2.8 M137.6 1146.12h-2.8 M137.6 1155.4h-2.8 M137.6 1164.68h-2.8 M137.6 1173.96h-2.8 M137.6 1183.24h-2.8 M137.6 1192.52h-2.8 M137.6 1201.8h-2.8 M137.6 1211.08h-2.8 M137.6 1220.36h-2.8 M137.6 1229.64h-5.5 M137.6 1238.92h-2.8 M137.6 1248.2h-2.8 M137.6 1257.48h-2.8 M137.6 1266.76h-2.8 M137.6 1276.04h-2.8 M137.6 1285.32h-2.8 M137.6 1294.6h-2.8 M137.6 1303.88h-2.8 M137.6 1313.16h-2.8 M137.6 1322.44h-2.8 M137.6 1331.72h-5.5 M137.6 1341h-2.8 M137.6 1350.28h-2.8 M137.6 1359.56h-2.8 M137.6 1368.84h-2.8 M137.6 1378.12h-2.8 M137.6 1387.4h-2.8 M137.6 1396.68h-2.8 M137.6 1405.96h-2.8 M137.6 1415.24h-2.8 M137.6 1424.52h-2.8 M137.6 1433.8h-5.5 M137.6 1443.08h-2.8 M137.6 1452.36h-2.8 M137.6 1461.64h-2.8 M137.6 1470.92h-2.8" stroke="#555" stroke-width="1.1" fill="none"/>
<path d="M137.3 1472.8v5.5 M151.82 1472.8v2.8 M166.34 1472.8v2.8 M180.86 1472.8v2.8 M195.38 1472.8v2.8 M209.9 1472.8v5.5 M224.42 1472.8v2.8 M238.94 1472.8v2.8 M253.46 1472.8v2.8 M267.98 1472.8v2.8 M282.5 1472.8v5.5 M297.02 1472.8v2.8 M311.54 1472.8v2.8 M326.06 1472.8v2.8 M340.58 1472.8v2.8 M355.1 1472.8v5.5 M369.62 1472.8v2.8 M384.14 1472.8v2.8 M398.66 1472.8v2.8 M413.18 1472.8v2.8" stroke="#555" stroke-width="1.1" fill="none"/>
<path d="M427.4 1472.8v5.5 M438.56 1472.8v2.8 M449.72 1472.8v2.8 M460.88 1472.8v2.8 M472.04 1472.8v2.8 M483.2 1472.8v5.5 M494.36 1472.8v2.8 M505.52 1472.8v2.8 M516.68 1472.8v2.8 M527.84 1472.8v2.8 M539 1472.8v5.5 M550.16 1472.8v2.8 M561.32 1472.8v2.8 M572.48 1472.8v2.8 M583.64 1472.8v2.8 M594.8 1472.8v5.5 M605.96 1472.8v2.8 M617.12 1472.8v2.8 M628.28 1472.8v2.8 M639.44 1472.8v2.8 M650.6 1472.8v5.5 M661.76 1472.8v2.8 M672.92 1472.8v2.8 M684.08 1472.8v2.8 M695.24 1472.8v2.8 M706.4 1472.8v5.5" stroke="#555" stroke-width="1.1" fill="none"/>
<path d="M721.56 1472.8v2.8 M731.2 1472.8v5.5 M740.84 1472.8v2.8 M750.48 1472.8v2.8 M760.12 1472.8v2.8 M769.76 1472.8v2.8 M779.4 1472.8v5.5 M789.04 1472.8v2.8 M798.68 1472.8v2.8 M808.32 1472.8v2.8 M817.96 1472.8v2.8 M827.6 1472.8v5.5 M837.24 1472.8v2.8 M846.88 1472.8v2.8 M856.52 1472.8v2.8 M866.16 1472.8v2.8 M875.8 1472.8v5.5 M885.44 1472.8v2.8 M895.08 1472.8v2.8 M904.72 1472.8v2.8 M914.36 1472.8v2.8 M924 1472.8v5.5 M933.64 1472.8v2.8 M943.28 1472.8v2.8 M952.92 1472.8v2.8 M962.56 1472.8v2.8 M972.2 1472.8v5.5 M981.84 1472.8v2.8 M991.48 1472.8v2.8" stroke="#555" stroke-width="1.1" fill="none"/>
<path d="M1007.5 1472.8v5.5 M1015.3 1472.8v2.8 M1023.1 1472.8v2.8 M1030.9 1472.8v2.8 M1038.7 1472.8v2.8 M1046.5 1472.8v5.5 M1054.3 1472.8v2.8 M1062.1 1472.8v2.8 M1069.9 1472.8v2.8 M1077.7 1472.8v2.8 M1085.5 1472.8v5.5 M1093.3 1472.8v2.8 M1101.1 1472.8v2.8 M1108.9 1472.8v2.8 M1116.7 1472.8v2.8 M1124.5 1472.8v5.5 M1132.3 1472.8v2.8 M1140.1 1472.8v2.8 M1147.9 1472.8v2.8 M1155.7 1472.8v2.8 M1163.5 1472.8v5.5 M1171.3 1472.8v2.8 M1179.1 1472.8v2.8 M1186.9 1472.8v2.8 M1194.7 1472.8v2.8 M1202.5 1472.8v5.5 M1210.3 1472.8v2.8 M1218.1 1472.8v2.8 M1225.9 1472.8v2.8 M1233.7 1472.8v2.8 M1241.5 1472.8v5.5 M1249.3 1472.8v2.8 M1257.1 1472.8v2.8 M1264.9 1472.8v2.8 M1272.7 1472.8v2.8 M1280.5 1472.8v5.5 M1288.3 1472.8v2.8" stroke="#555" stroke-width="1.1" fill="none"/>
<text transform="translate(539.93,35.4) scale(0.97,1)" x="0" y="0" font-size="33" >Young Plume Core</text>
<text transform="translate(539.89,880.9) scale(1.01,1)" x="0" y="0" font-size="33" >Offshore&#160; Waters</text>
<text transform="translate(26.6,435.9) rotate(-90) scale(0.99,1)" x="-2.1" y="0" font-size="34.5">Depth (m)</text>
<text transform="translate(42.2,1286.2) rotate(-90) scale(0.99,1)" x="-2.1" y="0" font-size="34.5">Depth (m)</text>
<text x="117.3" y="105.2" font-size="46" text-anchor="end" >0</text>
<text x="130.4" y="939.4" font-size="46" text-anchor="end" >0</text>
<text x="117.3" y="207.28" font-size="46" text-anchor="end" >20</text>
<text x="130.4" y="1041.48" font-size="46" text-anchor="end" >20</text>
<text x="117.3" y="309.36" font-size="46" text-anchor="end" >40</text>
<text x="130.4" y="1143.56" font-size="46" text-anchor="end" >40</text>
<text x="117.3" y="411.44" font-size="46" text-anchor="end" >60</text>
<text x="130.4" y="1245.64" font-size="46" text-anchor="end" >60</text>
<text x="117.3" y="513.52" font-size="46" text-anchor="end" >80</text>
<text x="130.4" y="1347.72" font-size="46" text-anchor="end" >80</text>
<text x="117.3" y="615.6" font-size="46" text-anchor="end" >100</text>
<text x="130.4" y="1449.8" font-size="46" text-anchor="end" >100</text>
<text x="131.8" y="688.3" font-size="46" text-anchor="middle" >0</text>
<text x="242" y="688.3" font-size="46" text-anchor="middle" >40</text>
<text x="352" y="688.3" font-size="46" text-anchor="middle" >80</text>
<text x="423.8" y="688.3" font-size="46" text-anchor="middle" >0</text>
<text x="494.7" y="688.3" font-size="46" text-anchor="middle" >5</text>
<text x="565.6" y="688.3" font-size="46" text-anchor="middle" >10</text>
<text x="636.5" y="688.3" font-size="46" text-anchor="middle" >15</text>
<text x="712.2" y="688.3" font-size="46" text-anchor="middle" >0</text>
<text x="810.4" y="688.3" font-size="46" text-anchor="middle" >0.2</text>
<text x="916.6" y="688.3" font-size="46" text-anchor="middle" >0.4</text>
<text x="1000" y="688.3" font-size="46" text-anchor="middle" >1</text>
<text x="1087.8" y="688.3" font-size="46" text-anchor="middle" >3</text>
<text x="1182.1" y="688.3" font-size="46" text-anchor="middle" >5</text>
<text x="1271.2" y="688.3" font-size="46" text-anchor="middle" >7</text>
<text x="140.2" y="1522.8" font-size="46" text-anchor="middle" >0</text>
<text x="210.3" y="1522.8" font-size="46" text-anchor="middle" >1</text>
<text x="283" y="1522.8" font-size="46" text-anchor="middle" >2</text>
<text x="355.3" y="1522.8" font-size="46" text-anchor="middle" >3</text>
<text x="434.8" y="1522.8" font-size="46" text-anchor="middle" >0</text>
<text x="539.1" y="1522.8" font-size="46" text-anchor="middle" >0.2</text>
<text x="650.8" y="1522.8" font-size="46" text-anchor="middle" >0.4</text>
<text x="730.7" y="1522.8" font-size="46" text-anchor="middle" >0</text>
<text x="826.7" y="1522.8" font-size="46" text-anchor="middle" >0.2</text>
<text x="923.4" y="1522.8" font-size="46" text-anchor="middle" >0.4</text>
<text transform="translate(1008.13,1517.8) scale(1.04,1)" x="0" y="0" font-size="37.5" >1.06</text>
<text transform="translate(1124.83,1517.8) scale(1.04,1)" x="0" y="0" font-size="37.5" >1.09</text>
<text transform="translate(180.68,741) scale(1.04,1)" x="0" y="0" font-size="42" >PC (&#956;M)</text>
<text transform="translate(413.62,741) scale(1.04,1)" x="0" y="0" font-size="42" >Chla (mg m</text>
<rect x="653.2" y="714.6" width="8.2" height="3.6" fill="#231f20"/>
<text transform="translate(662.97,729.6) scale(1.03,1)" x="0" y="0" font-size="29.5" >3</text>
<text transform="translate(679.6,741) scale(1,1)" x="0" y="0" font-size="42" >)</text>
<text transform="translate(737.11,741) scale(1.06,1)" x="0" y="0" font-size="42" >PO</text>
<text transform="translate(801.5,748.3) scale(1.1,1)" x="0" y="0" font-size="25.5" >4</text>
<rect x="819.2" y="714.8" width="8.8" height="3.9" fill="#231f20"/>
<text transform="translate(828.92,729.8) scale(1.08,1)" x="0" y="0" font-size="29.5" >3</text>
<text transform="translate(858.66,741) scale(1.02,1)" x="0" y="0" font-size="42" >(&#956;M)</text>
<text transform="translate(1014.4,730.2) scale(1,1)" x="0" y="0" font-size="32" >Turbidity (NTU)</text>
<text transform="translate(193.38,1575.5) scale(1.04,1)" x="0" y="0" font-size="42" >PC (&#956;M)</text>
<text transform="translate(426.32,1575.5) scale(1.04,1)" x="0" y="0" font-size="42" >Chla (mg m</text>
<rect x="665.9" y="1549.1" width="8.2" height="3.6" fill="#231f20"/>
<text transform="translate(675.67,1564.1) scale(1.03,1)" x="0" y="0" font-size="29.5" >3</text>
<text transform="translate(692.3,1575.5) scale(1,1)" x="0" y="0" font-size="42" >)</text>
<text transform="translate(749.81,1575.5) scale(1.06,1)" x="0" y="0" font-size="42" >PO</text>
<text transform="translate(814.2,1582.8) scale(1.1,1)" x="0" y="0" font-size="25.5" >4</text>
<rect x="831.9" y="1549.3" width="8.8" height="3.9" fill="#231f20"/>
<text transform="translate(841.62,1564.3) scale(1.08,1)" x="0" y="0" font-size="29.5" >3</text>
<text transform="translate(871.36,1575.5) scale(1.02,1)" x="0" y="0" font-size="42" >(&#956;M)</text>
<text transform="translate(1027.1,1564.7) scale(1,1)" x="0" y="0" font-size="32" >Turbidity (NTU)</text>
</svg></body></html>
